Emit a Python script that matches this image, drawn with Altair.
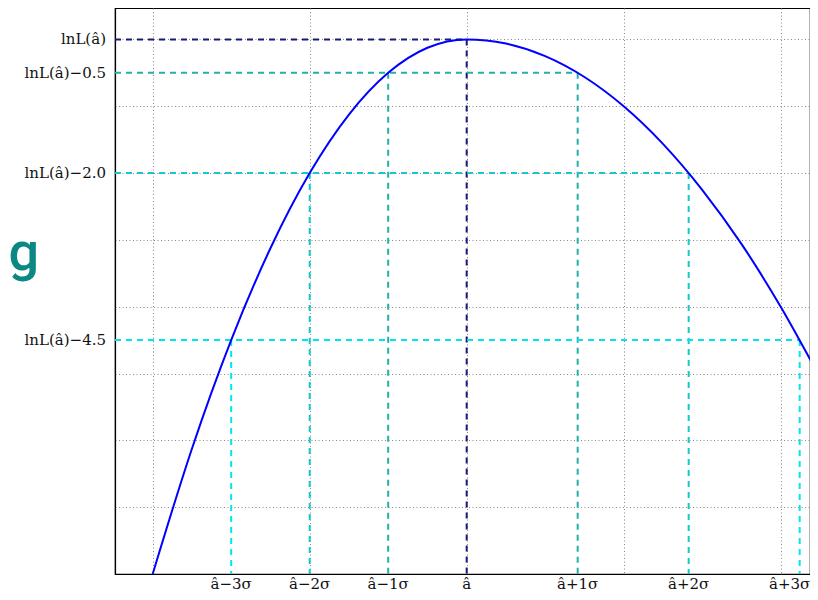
import altair as alt
import pandas as pd

# Curve samples (x in units of the grid, y = lnL - lnL(a_hat))
curve_x = [-2.0, -1.75, -1.5, -1.25, -1.0, -0.75, -0.5, -0.25, 0.0,
           0.25, 0.5, 0.75, 1.0, 1.25, 1.5, 1.75, 2.0, 2.25]
curve_y = [-8.0, -6.125, -4.5, -3.125, -2.0, -1.125, -0.5, -0.125, 0.0,
           -0.0625, -0.25, -0.5625, -1.0, -1.5625, -2.25, -3.06, -4.0, -5.06]

# Likelihood levels and their crossing points
level_names = ["L0", "L05", "L20", "L45"]
levels = [0.0, -0.5, -2.0, -4.5]
left_x = [0.0, -0.5, -1.0, -1.5]
right_x = [0.0, 0.707, 1.414, 2.121]
level_labels = ["lnL(â)", "lnL(â)−0.5", "lnL(â)−2.0", "lnL(â)−4.5"]
level_colors = ["#1a1a78", "#22b0a8", "#14c8cc", "#00e6ea"]

sigma_pos = [-1.5, -1.0, -0.5, 0.0, 0.707, 1.414, 2.121]
sigma_labels = ["â−3σ", "â−2σ", "â−1σ", "â", "â+1σ", "â+2σ", "â+3σ"]

x_grid = [-2, -1, 0, 1, 2]
y_grid = [-8, -7, -6, -5, -4, -3, -2, -1, 0]

W, H = 695, 566
X_MIN = -2.24
X_MAX = X_MIN + W / 157.0
Y_MIN, Y_MAX = -8.0, 0.47

xs = alt.Scale(domain=[X_MIN, X_MAX], nice=False, zero=False)
ys = alt.Scale(domain=[Y_MIN, Y_MAX], nice=False, zero=False)
cs = alt.Scale(domain=level_names, range=level_colors)

# segments: horizontal from left edge to right crossing; verticals down to bottom
segs = []
for n, lv, lx, rx in zip(level_names, levels, left_x, right_x):
    segs.append({"k": n, "x": X_MIN, "x2": rx, "y": lv, "y2": lv})
    segs.append({"k": n, "x": lx, "x2": lx, "y": lv, "y2": Y_MIN})
    if rx != lx:
        segs.append({"k": n, "x": rx, "x2": rx, "y": lv, "y2": Y_MIN})
seg_df = pd.DataFrame(segs)

base_axes = alt.Chart(pd.DataFrame({"x": [0.0], "y": [0.0]})).mark_point(opacity=0).encode(
    x=alt.X("x:Q", scale=xs, axis=alt.Axis(values=x_grid, labels=False, ticks=False, title=None,
                                           grid=True, domainColor="#000", domainWidth=1.2)),
    y=alt.Y("y:Q", scale=ys, axis=alt.Axis(values=y_grid, labels=False, ticks=False, title=None,
                                           grid=True, domainColor="#000", domainWidth=1.2)),
)

rules = alt.Chart(seg_df).mark_rule(strokeDash=[6, 5], strokeWidth=2, clip=True).encode(
    x=alt.X("x:Q", scale=xs), x2="x2:Q",
    y=alt.Y("y:Q", scale=ys), y2="y2:Q",
    color=alt.Color("k:N", scale=cs, legend=None),
)

curve = alt.Chart(pd.DataFrame({"x": curve_x, "y": curve_y})).mark_line(
    color="#0000ff", strokeWidth=2, interpolate="monotone", clip=True
).encode(x=alt.X("x:Q", scale=xs), y=alt.Y("y:Q", scale=ys))

ylab = alt.Chart(pd.DataFrame({"y": levels, "t": level_labels})).mark_text(
    align="right", baseline="middle", font="DejaVu Serif", fontSize=15, color="#111"
).encode(x=alt.value(-9), y=alt.Y("y:Q", scale=ys), text="t:N")

xlab_df = pd.DataFrame({"x": sigma_pos, "t": sigma_labels})
xlab_main = alt.Chart(xlab_df.iloc[:-1]).mark_text(
    align="center", baseline="alphabetic", font="DejaVu Serif", fontSize=15, color="#111"
).encode(x=alt.X("x:Q", scale=xs), y=alt.value(H + 15), text="t:N")
xlab_last = alt.Chart(xlab_df.iloc[-1:]).mark_text(
    align="center", baseline="alphabetic", font="DejaVu Serif", fontSize=15, color="#111", dx=-10
).encode(x=alt.X("x:Q", scale=xs), y=alt.value(H + 15), text="t:N")

gtext = alt.Chart(pd.DataFrame({"t": ["g"]})).mark_text(
    align="right", baseline="alphabetic", font="Roboto", fontSize=54, fontWeight=500,
    color="#0b8784"
).encode(x=alt.value(-76), y=alt.value(262), text="t:N")

chart = alt.layer(base_axes, rules, curve, ylab, xlab_main, xlab_last, gtext).properties(
    width=W, height=H,
    autosize=alt.AutoSizeParams(type="none"),
    padding={"left": 107, "top": 0, "right": 0, "bottom": 18},
).configure_view(stroke="#000", strokeWidth=1.2).configure_axis(
    gridColor="#888", gridDash=[1, 2.5], gridWidth=1
)

chart.save("out.html", embed_options={"renderer": "svg", "actions": False})
